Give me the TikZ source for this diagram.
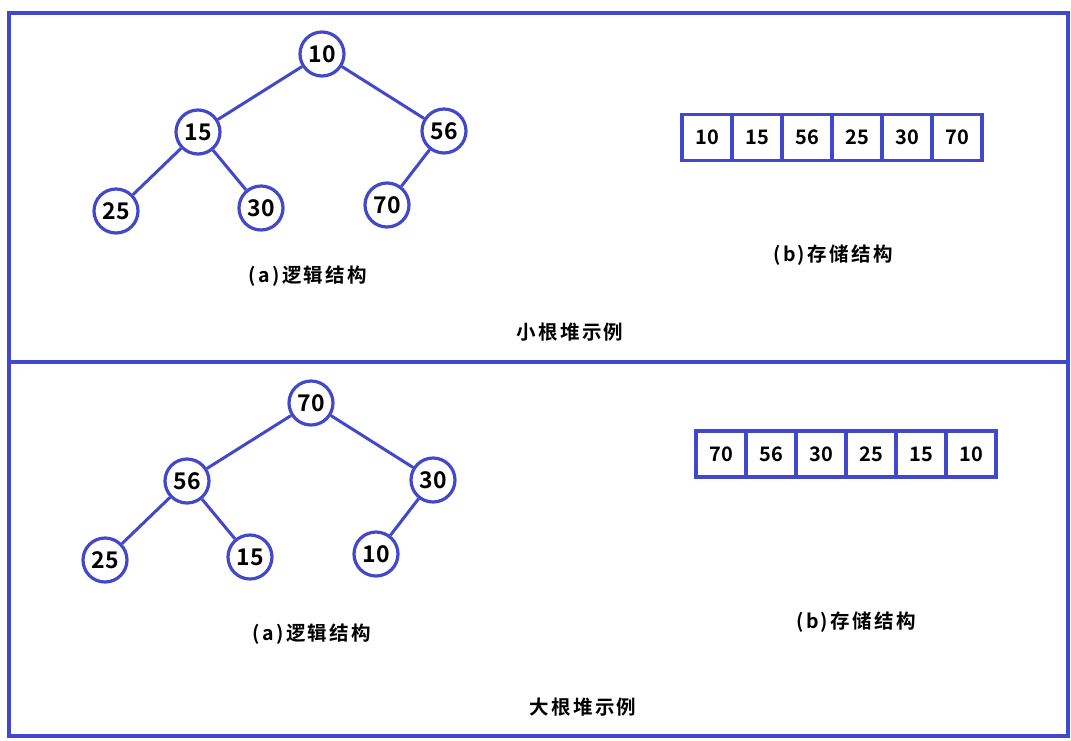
\documentclass[tikz,border=0pt]{standalone}
\usepackage{fontspec}
\setmainfont{Noto Sans CJK SC}[BoldFont={Noto Sans CJK SC Bold}]
\newfontfamily\lblfont{Noto Sans CJK SC Bold}[LetterSpace=12]
\newfontfamily\numfont{Noto Sans CJK SC Bold}
\definecolor{hb}{RGB}{66,72,204}
\begin{document}
\begin{tikzpicture}[x=1pt,y=-1pt,
  nd/.style={circle,draw=hb,line width=3.2pt,minimum size=44pt,inner sep=0pt,font=\fontsize{23}{23}\numfont},
  cell/.style={rectangle,draw=hb,line width=3.2pt,minimum width=50pt,minimum height=46pt,inner sep=0pt,font=\fontsize{20}{20}\numfont},
  lbl/.style={font=\fontsize{19.5}{19.5}\lblfont},
  edge/.style={draw=hb,line width=3pt}]
\useasboundingbox (0,0) rectangle (1071,740);
\draw[hb,line width=3.2pt] (9,13) rectangle (1068,736);
\draw[hb,line width=3.2pt] (9,362) -- (1068,362);
% top tree
\node[nd] (t10) at (322,54) {10};
\node[nd] (t15) at (198,132) {15};
\node[nd] (t56) at (444,131) {56};
\node[nd] (t25) at (116,211) {25};
\node[nd] (t30) at (261,208) {30};
\node[nd] (t70) at (387,205) {70};
\draw[edge] (t10) -- (t15);
\draw[edge] (t10) -- (t56);
\draw[edge] (t15) -- (t25);
\draw[edge] (t15) -- (t30);
\draw[edge] (t56) -- (t70);
\node[lbl] (tla) at (308,276) {(a)逻辑结构};
% top array
\node[cell] (ta1) at (707,137.5) {10};
\node[cell] (ta2) at (757,137.5) {15};
\node[cell] (ta3) at (807,137.5) {56};
\node[cell] (ta4) at (857,137.5) {25};
\node[cell] (ta5) at (907,137.5) {30};
\node[cell] (ta6) at (957,137.5) {70};
\node[lbl] (tlb) at (833,255) {(b)存储结构};
\node[lbl] (ttl) at (570,332) {小根堆示例};
% bottom tree
\node[nd] (b70) at (311,403) {70};
\node[nd] (b56) at (187,481) {56};
\node[nd] (b30) at (433,480) {30};
\node[nd] (b25) at (105,560) {25};
\node[nd] (b15) at (250,557) {15};
\node[nd] (b10) at (376,554) {10};
\draw[edge] (b70) -- (b56);
\draw[edge] (b70) -- (b30);
\draw[edge] (b56) -- (b25);
\draw[edge] (b56) -- (b15);
\draw[edge] (b30) -- (b10);
\node[lbl] (bla) at (312,634) {(a)逻辑结构};
% bottom array
\node[cell] (ba1) at (721,454) {70};
\node[cell] (ba2) at (771,454) {56};
\node[cell] (ba3) at (821,454) {30};
\node[cell] (ba4) at (871,454) {25};
\node[cell] (ba5) at (921,454) {15};
\node[cell] (ba6) at (971,454) {10};
\node[lbl] (blb) at (856,622) {(b)存储结构};
\node[lbl] (btl) at (583,707) {大根堆示例};
\end{tikzpicture}
\end{document}
